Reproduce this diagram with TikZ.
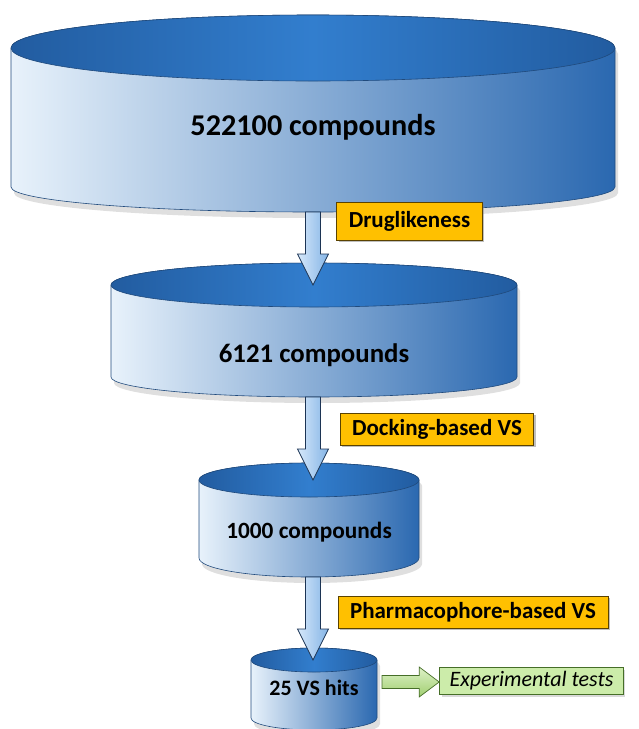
\documentclass[tikz,border=0pt]{standalone}
\usepackage{fontspec}
\setmainfont{Carlito}
\usetikzlibrary{calc,shadows}

\definecolor{cyltop}{RGB}{50,126,206}
\definecolor{cyledge}{RGB}{34,92,160}
\definecolor{cyllight}{RGB}{232,242,251}
\definecolor{cylmid}{RGB}{140,180,226}
\definecolor{cyldark}{RGB}{42,104,176}
\definecolor{cylline}{RGB}{32,74,124}
\definecolor{arrlight}{RGB}{214,232,250}
\definecolor{arrdark}{RGB}{132,180,230}
\definecolor{arrline}{RGB}{28,52,84}
\definecolor{labyellow}{RGB}{255,192,0}
\definecolor{labline}{RGB}{90,66,0}
\definecolor{labgreen}{RGB}{204,236,170}
\definecolor{grnline}{RGB}{70,110,40}
\definecolor{grnlight}{RGB}{222,242,200}
\definecolor{grndark}{RGB}{160,206,112}

\begin{document}
\begin{tikzpicture}[x=1pt,y=1pt,
    cylbody/.style={left color=cyllight, middle color=cylmid, right color=cyldark,
      draw=cylline, line width=0.6pt,
      drop shadow={shadow xshift=3pt,shadow yshift=-6pt,opacity=0.25}},
    cyllid/.style={left color=cyledge, right color=cyledge, middle color=cyltop,
      draw=cylline, line width=0.6pt},
    downarrow/.style={left color=arrlight, right color=arrdark, draw=arrline, line width=0.7pt,
      to path={let \p1=(\tikztostart), \p2=(\tikztotarget) in
        (\x1-7.5pt,\y1) -- (\x1-7.5pt,\y2+31pt) -- (\x1-15.5pt,\y2+31pt) -- (\x1,\y2)
        -- (\x1+15.5pt,\y2+31pt) -- (\x1+7.5pt,\y2+31pt) -- (\x1+7.5pt,\y1) -- cycle}},
    rightarrow/.style={top color=grnlight, bottom color=grndark, draw=grnline, line width=0.7pt,
      to path={let \p1=(\tikztostart), \p2=(\tikztotarget) in
        (\x1,\y1-6.5pt) -- (\x2-20pt,\y1-6.5pt) -- (\x2-20pt,\y1-15pt) -- (\x2,\y1)
        -- (\x2-20pt,\y1+15pt) -- (\x2-20pt,\y1+6.5pt) -- (\x1,\y1+6.5pt) -- cycle}},
    filterbox/.style={draw=labline, fill=labyellow, line width=0.8pt, inner xsep=12pt,
      minimum height=32pt, font=\fontsize{23}{23}\selectfont\bfseries,
      drop shadow={shadow xshift=2pt,shadow yshift=-2pt,opacity=0.5}},
    testbox/.style={draw=grnline, fill=labgreen, line width=0.6pt, inner xsep=10pt,
      minimum height=27pt, font=\fontsize{22}{22}\selectfont\itshape,
      drop shadow={shadow xshift=2pt,shadow yshift=-2pt,opacity=0.3}}]

    \useasboundingbox (0,0) rectangle (638,-729);
          % page in pixels of the original

    \foreach \n/\cx/\ty/\rx/\ry/\sb/\rb/\tx/\fs/\txt in {%
        one/313/48/302/33/187/25/127/30.2/522100 compounds,
        two/314/285/203/22/377/20/355/26.8/6121 compounds,
        three/309/480/110/17/558/19/532/23.3/1000 compounds,
        four/314/660/63/12/718/12/688/22/25 VS hits}{%
      \path[cylbody] (\cx-\rx,-\ty) -- (\cx-\rx,-\sb)
        arc[start angle=180,end angle=360,x radius=\rx,y radius=\rb]
        -- (\cx+\rx,-\ty)
        arc[start angle=0,end angle=180,x radius=\rx,y radius=\ry] -- cycle;
            % side of the cylinder
      \path[cyllid] (\cx,-\ty) ellipse[x radius=\rx,y radius=\ry];
            % lid
      \node[font=\fontsize{\fs}{\fs}\selectfont\bfseries] (\n) at (\cx,-\tx) {\txt};
      \coordinate (\n-top) at (\cx,-\ty);
      \coordinate (\n-bot) at (313,-\sb-\rb);
    }
    \coordinate (four-right) at (382,-682);

    \draw[downarrow] (one-bot) to (two-top);
    \draw[downarrow] (two-bot) to (three-top);
    \draw[downarrow] (three-bot) to (four-top);

    \node[filterbox,minimum height=38pt] (drug) at (409.5,-221) {Druglikeness};
    \node[filterbox] (dock) at (437,-429) {Docking-based VS};
    \node[filterbox] (pharm) at (473,-612) {Pharmacophore-based VS};

    \node[testbox] (tests) at (531.5,-681) {Experimental tests};
    \draw[rightarrow] (four-right) to (tests.west);

\end{tikzpicture}
\end{document}
